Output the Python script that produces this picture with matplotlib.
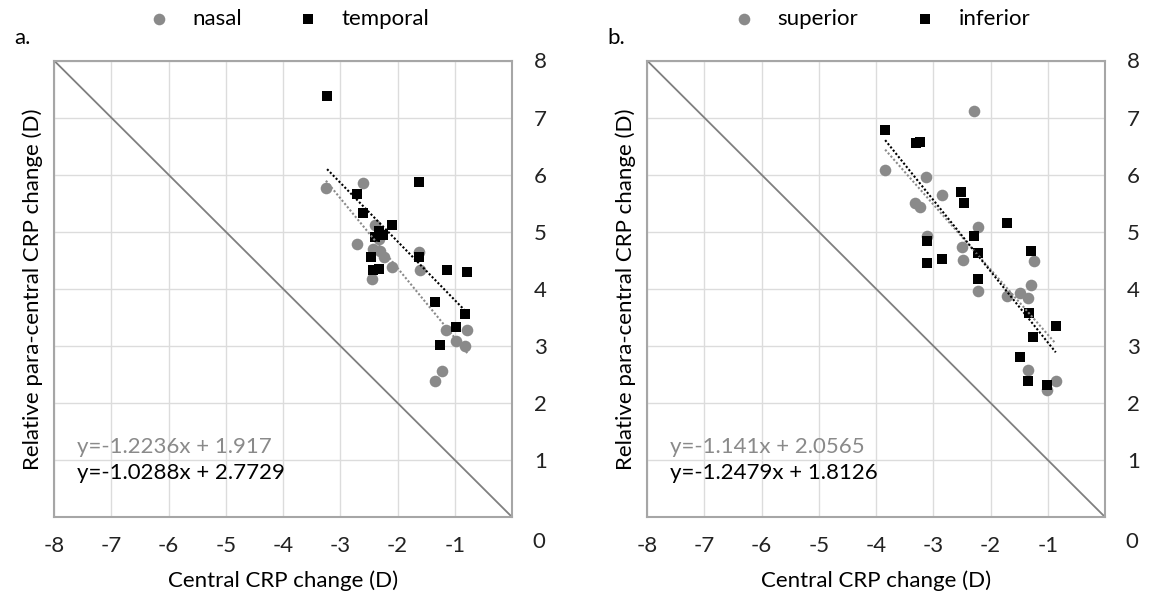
import numpy as np
import matplotlib.pyplot as plt

plt.rcParams['font.family'] = ['Lato', 'DejaVu Sans']

# panel a: nasal (grey circles) and temporal (black squares)
nasal_x = [-3.25, -2.60, -2.39, -2.32, -2.71, -2.43, -2.30, -2.24, -2.10, -2.45,
           -1.63, -1.61, -1.15, -0.78, -0.98, -0.82, -1.22, -1.34]
nasal_y = [5.76, 5.85, 5.12, 4.87, 4.79, 4.70, 4.67, 4.56, 4.38, 4.17,
           4.64, 4.32, 3.28, 3.28, 3.08, 3.00, 2.56, 2.38]
temporal_x = [-3.23, -1.63, -2.71, -2.60, -2.10, -2.32, -2.25, -2.40, -2.47, -1.63,
              -2.43, -2.32, -1.14, -0.78, -1.34, -0.82, -0.98, -1.25]
temporal_y = [7.37, 5.87, 5.66, 5.32, 5.12, 5.02, 4.95, 4.90, 4.55, 4.56,
              4.32, 4.34, 4.32, 4.29, 3.77, 3.56, 3.33, 3.01]

# panel b: superior (grey circles) and inferior (black squares)
superior_x = [-2.28, -3.84, -3.12, -2.85, -3.32, -3.24, -2.22, -3.11, -2.49, -2.48,
              -1.24, -1.29, -2.22, -1.71, -1.48, -1.34, -1.34, -0.86, -1.02]
superior_y = [7.12, 6.08, 5.95, 5.65, 5.51, 5.44, 5.08, 4.92, 4.74, 4.50,
              4.48, 4.07, 3.96, 3.87, 3.92, 3.83, 2.58, 2.38, 2.23]
inferior_x = [-3.84, -3.31, -3.23, -2.51, -2.47, -1.72, -2.28, -3.11, -2.22, -1.29,
              -2.85, -3.11, -2.22, -1.32, -0.86, -1.25, -1.48, -1.34, -1.02]
inferior_y = [6.78, 6.55, 6.58, 5.69, 5.50, 5.16, 4.92, 4.83, 4.63, 4.66,
              4.53, 4.45, 4.17, 3.58, 3.35, 3.16, 2.81, 2.38, 2.31]

# trendline coefficients (slope, intercept)
fit_a = [(-1.2236, 1.917), (-1.0288, 2.7729)]
fit_b = [(-1.141, 2.0565), (-1.2479, 1.8126)]

panels = [
    ("a.", ("nasal", nasal_x, nasal_y), ("temporal", temporal_x, temporal_y), fit_a),
    ("b.", ("superior", superior_x, superior_y), ("inferior", inferior_x, inferior_y), fit_b),
]

grey = "#8a8a8a"
fs = 16
fig = plt.figure(figsize=(11.54, 5.91), dpi=100)
lefts = [54 / 1154, 647 / 1154]

for i, (tag, s1, s2, fits) in enumerate(panels):
    ax = fig.add_axes([lefts[i], 74 / 591, 458 / 1154, 456.5 / 591])
    ax.set_xlim(-8, 0)
    ax.set_ylim(0, 8)
    ax.set_xticks(range(-8, 1))
    ax.set_xticklabels([str(v) for v in range(-8, 0)] + [""])
    ax.set_yticks(range(0, 9))
    ax.set_yticklabels([""] + [str(v) for v in range(1, 9)])
    ax.yaxis.tick_right()
    ax.yaxis.set_label_position("left")
    ax.tick_params(length=0, labelsize=fs, colors="#222222")
    ax.tick_params(axis="x", pad=14)
    ax.tick_params(axis="y", pad=16)
    ax.grid(True, color="#dcdcdc", lw=1)
    ax.set_axisbelow(True)
    for sp in ax.spines.values():
        sp.set_color("#a6a6a6")
        sp.set_linewidth(1.5)

    ax.plot([-8, 0], [8, 0], color="#7f7f7f", lw=1.3, zorder=2)

    for (name, xs, ys), (m, c, sz) in zip([s1, s2], [("o", grey, 70), ("s", "black", 62)]):
        ax.scatter(xs, ys, marker=m, s=sz, color=c, label=name, zorder=3, linewidths=0)

    for (name, xs, ys), (k, b), c in zip([s1, s2], fits, [grey, "black"]):
        xx = np.array([min(xs), max(xs)])
        ax.plot(xx, k * xx + b, ls=(0, (1, 1)), color=c, lw=1.5, zorder=4)

    ax.text(-7.6, 1.13, f"y={fits[0][0]}x + {fits[0][1]}", color=grey, fontsize=fs)
    ax.text(-7.6, 0.66, f"y={fits[1][0]}x + {fits[1][1]}", color="black", fontsize=fs)

    ax.text(1.058, -0.055, "0", transform=ax.transAxes, fontsize=fs, color="#222222",
            ha="center", va="center")
    ax.text(-0.068, 1.05, tag, transform=ax.transAxes, fontsize=fs, ha="center", va="center")

    ax.set_xlabel("Central CRP change (D)", fontsize=fs, labelpad=10)
    ax.set_ylabel("Relative para-central CRP change (D)", fontsize=fs, labelpad=8)
    ax.legend(loc="lower center", bbox_to_anchor=(0.5, 1.05), ncol=2, frameon=False,
              fontsize=fs, handletextpad=0.5, columnspacing=2.0, borderaxespad=0)

fig.savefig("out.png", dpi=100)
